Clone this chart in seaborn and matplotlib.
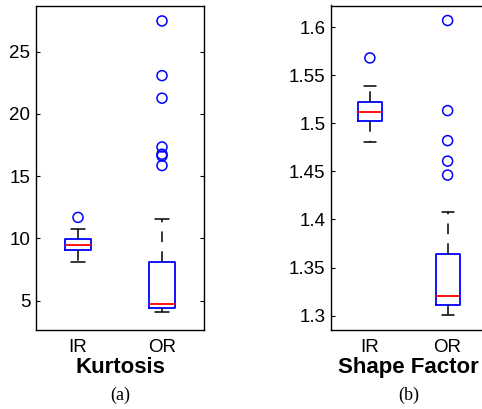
import matplotlib
matplotlib.use("Agg")
import matplotlib.pyplot as plt
import seaborn as sns
import pandas as pd

# Groups (bearing fault location)
groups = ["IR", "OR"]

# Five-number summaries: lower whisker, Q1, median, Q3, upper whisker
kurtosis_ir = [8.07, 9.06, 9.46, 9.95, 10.75]
kurtosis_or = [4.07, 4.41, 4.76, 8.08, 11.56]
shape_ir = [1.4805, 1.502, 1.5114, 1.5226, 1.539]
shape_or = [1.3007, 1.3108, 1.3202, 1.3642, 1.4079]

# Outlying observations
kurtosis_ir_out = [11.69]
kurtosis_or_out = [15.85, 16.62, 16.76, 17.34, 21.26, 23.07, 27.46]
shape_ir_out = [1.568]
shape_or_out = [1.4462, 1.4607, 1.482, 1.5132, 1.6069]

# Axis limits and ticks
kurtosis_ylim = (2.65, 28.7)
kurtosis_ticks = [5, 10, 15, 20, 25]
shape_ylim = (1.2851, 1.6225)
shape_ticks = [1.3, 1.35, 1.4, 1.45, 1.5, 1.55, 1.6]
shape_ticklabels = ["1.3", "1.35", "1.4", "1.45", "1.5", "1.55", "1.6"]

sns.set_style("ticks")
plt.rcParams["font.family"] = ["Liberation Sans", "DejaVu Sans"]
plt.rcParams["text.color"] = "black"
plt.rcParams["axes.labelcolor"] = "black"

W, H = 482, 409
fig = plt.figure(figsize=(W / 100, H / 100), dpi=100)


def long_frame(a, b):
    return pd.DataFrame({
        "group": [groups[0]] * len(a) + [groups[1]] * len(b),
        "value": list(a) + list(b),
    })


def panel(rect, summ_a, summ_b, out_a, out_b, ylim, ticks, ticklabels,
          xlabel, caption):
    ax = fig.add_axes(rect)
    sns.boxplot(
        data=long_frame(summ_a, summ_b), x="group", y="value", order=groups,
        whis=(0, 100), showfliers=False, fill=False, width=0.31,
        linewidth=1.3, ax=ax,
        boxprops=dict(color="blue"),
        medianprops=dict(color="red"),
        whiskerprops=dict(color="black", linewidth=1.1,
                          linestyle=(0, (7, 6))),
        capprops=dict(color="black", linewidth=1.1),
    )
    sns.stripplot(
        data=long_frame(out_a, out_b), x="group", y="value", order=groups,
        jitter=False, size=7.2, marker="o", linewidth=1.1,
        color="blue", ax=ax,
    )
    for coll in ax.collections:
        coll.set_facecolor("none")
        coll.set_edgecolor("blue")

    ax.set_xlim(-0.5, 1.5)
    ax.set_ylim(*ylim)
    ax.set_yticks(ticks)
    ax.set_yticklabels(ticklabels)
    ax.set_ylabel("")
    ax.set_xlabel(xlabel, fontsize=16, fontweight="bold", labelpad=1,
                  color="black")
    ax.tick_params(axis="y", direction="in", left=True, right=True,
                   length=3, width=0.8, labelsize=13.5, pad=4,
                   colors="black")
    ax.tick_params(axis="x", length=0, labelsize=13.5, pad=6.5,
                   colors="black")
    for s in ax.spines.values():
        s.set_visible(True)
        s.set_color("black")
        s.set_linewidth(1.0)
    x0 = rect[0] + rect[2] / 2
    fig.text(x0, (H - 395) / H, caption, ha="center", va="center",
             fontsize=13, family=["Liberation Serif", "DejaVu Serif"])
    return ax


top, bottom = 5.5, 330
panel([36 / W, (H - bottom) / H, 168 / W, (bottom - top) / H],
      kurtosis_ir, kurtosis_or, kurtosis_ir_out, kurtosis_or_out,
      kurtosis_ylim, kurtosis_ticks, [str(t) for t in kurtosis_ticks],
      "Kurtosis", "(a)")
panel([331 / W, (H - bottom) / H, 155.5 / W, (bottom - top) / H],
      shape_ir, shape_or, shape_ir_out, shape_or_out,
      shape_ylim, shape_ticks, shape_ticklabels,
      "Shape Factor", "(b)")

fig.savefig("out.png", dpi=100)
